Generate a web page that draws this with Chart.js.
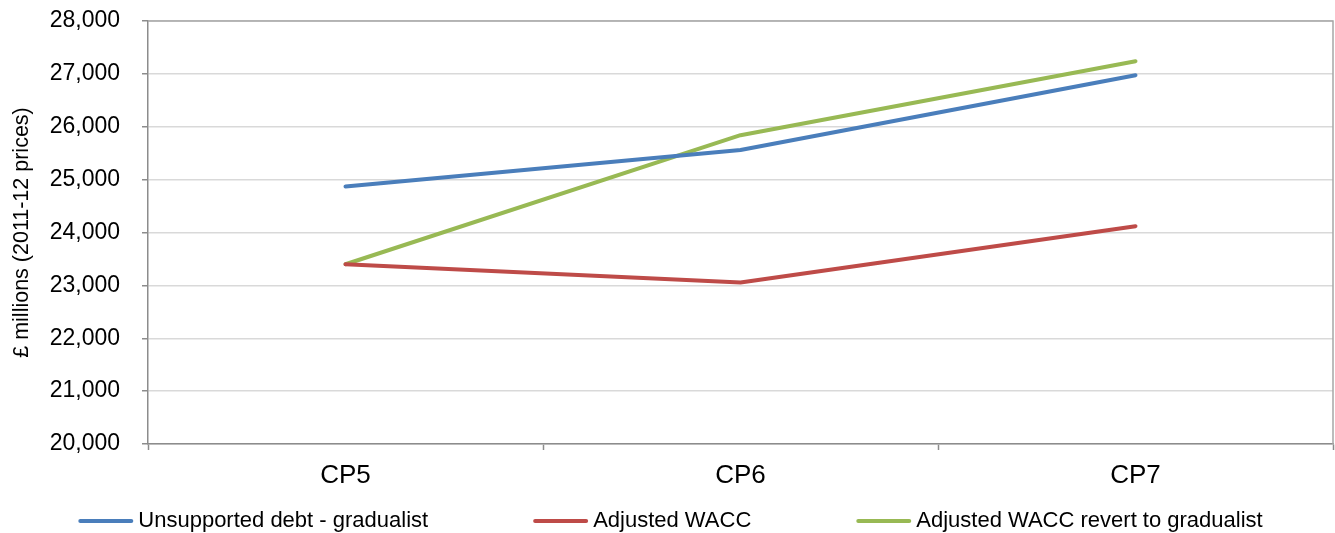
<!DOCTYPE html>
<html>
<head>
<meta charset="utf-8">
<script src="https://cdn.jsdelivr.net/npm/chart.js@4/dist/chart.umd.min.js"></script>
<style>
  html, body { margin: 0; padding: 0; background: #fff; }
  #wrap { width: 1335px; height: 533px; }
</style>
</head>
<body>
<div id="wrap"><canvas id="chart" width="1335" height="533"></canvas></div>
<script>
const PERIODS = ['CP5', 'CP6', 'CP7'];
const UNSUPPORTED_DEBT = [24870, 25560, 26975];
const ADJUSTED_WACC = [23400, 23055, 24120];
const ADJUSTED_REVERT = [23400, 25840, 27240];
const SERIES_NAMES = ['Unsupported debt - gradualist', 'Adjusted WACC', 'Adjusted WACC revert to gradualist'];
const SERIES_COLORS = ['#4a7ebb', '#be4b48', '#98b954'];

const FONT = '"Liberation Sans", Arial, sans-serif';
const AXIS_GREY = '#8c8c8c';

// Excel-style frame around the plot area
const plotBorder = {
  id: 'plotBorder',
  beforeDatasetsDraw(chart) {
    const { ctx, chartArea: a } = chart;
    ctx.save();
    ctx.strokeStyle = '#a6a6a6';
    ctx.lineWidth = 1.5;
    ctx.beginPath();
    ctx.moveTo(a.left, a.top);
    ctx.lineTo(a.right, a.top);
    ctx.lineTo(a.right, a.bottom);
    ctx.stroke();
    ctx.restore();
  }
};

// spaced-out legend like the original
const wideLegend = {
  id: 'wideLegend',
  afterDraw(chart) {
    const { ctx } = chart;
    const lineLen = 55, gap = 5, itemGap = 105, y = 521;
    ctx.save();
    ctx.font = '22px ' + FONT;
    const items = chart.data.datasets.map((ds) => ({
      text: ds.label,
      color: ds.borderColor,
      width: lineLen + gap + ctx.measureText(ds.label).width
    }));
    const total = items.reduce((s, it) => s + it.width, 0) + itemGap * (items.length - 1);
    let x = (chart.width - total) / 2 + 3;
    items.forEach((it) => {
      ctx.strokeStyle = it.color;
      ctx.lineWidth = 4;
      ctx.lineCap = 'round';
      ctx.beginPath();
      ctx.moveTo(x + 2, y);
      ctx.lineTo(x + lineLen - 2, y);
      ctx.stroke();
      ctx.fillStyle = '#000';
      ctx.textBaseline = 'middle';
      ctx.fillText(it.text, x + lineLen + gap, y);
      x += it.width + itemGap;
    });
    ctx.restore();
  }
};

const makeSet = (i, data) => ({
  label: SERIES_NAMES[i],
  data: data,
  borderColor: SERIES_COLORS[i],
  backgroundColor: SERIES_COLORS[i],
  borderWidth: 4,
  borderCapStyle: 'round',
  borderJoinStyle: 'round',
  pointRadius: 0,
  tension: 0,
});

new Chart(document.getElementById('chart'), {
  type: 'line',
  data: {
    labels: PERIODS,
    datasets: [
      makeSet(0, UNSUPPORTED_DEBT),
      makeSet(1, ADJUSTED_WACC),
      makeSet(2, ADJUSTED_REVERT),
    ],
  },
  plugins: [plotBorder, wideLegend],
  options: {
    responsive: false,
    animation: false,
    layout: { padding: { top: 21, right: 2, bottom: 29, left: 0 } },
    plugins: {
      legend: { display: false },
      tooltip: { enabled: false },
    },
    scales: {
      x: {
        offset: true,
        afterFit(scale) {
          scale.height = 60;
          scale.paddingLeft = 0;
          scale.paddingRight = 0;
        },
        grid: {
          offset: true,
          drawOnChartArea: false,
          drawTicks: true,
          tickLength: 6,
          tickColor: AXIS_GREY,
          tickWidth: 1.5,
        },
        border: { color: AXIS_GREY, width: 1.5 },
        ticks: {
          color: '#000',
          padding: 10,
          font: { family: FONT, size: 26 },
        },
      },
      y: {
        min: 20000,
        max: 28000,
        afterFit(scale) {
          scale.width = 148;
          scale.paddingTop = 0;
          scale.paddingBottom = 0;
        },
        grid: {
          color: '#d9d9d9',
          lineWidth: 1.5,
          tickLength: 6,
          tickColor: AXIS_GREY,
          tickWidth: 1.5,
        },
        border: { color: AXIS_GREY, width: 1.5 },
        ticks: {
          stepSize: 1000,
          color: '#000',
          padding: 22,
          font: { family: FONT, size: 23 },
        },
        title: {
          display: true,
          text: '£ millions (2011-12 prices)',
          color: '#000',
          padding: { top: 9, bottom: 0 },
          font: { family: FONT, size: 21.5 },
        },
      },
    },
  },
});
</script>
</body>
</html>
